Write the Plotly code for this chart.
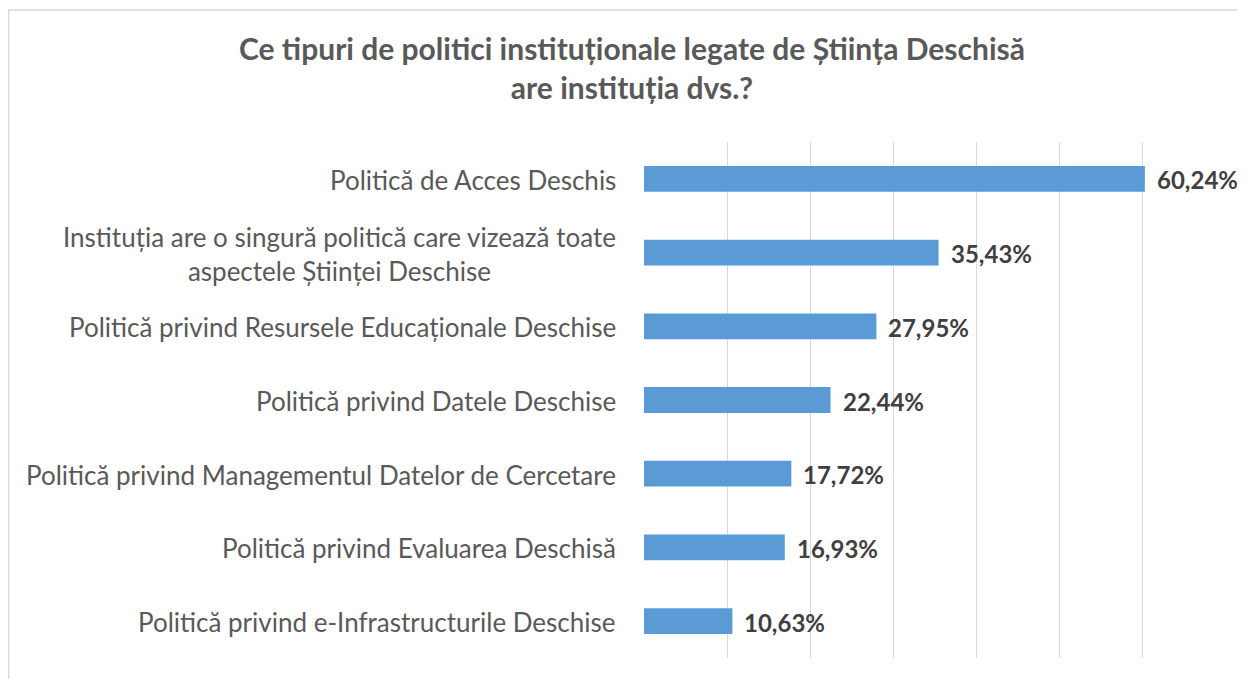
import plotly.graph_objects as go

categories = [
    "Politică de Acces Deschis",
    "Instituția are o singură politică care vizează toate<br>aspectele Științei Deschise",
    "Politică privind Resursele Educaționale Deschise",
    "Politică privind Datele Deschise",
    "Politică privind Managementul Datelor de Cercetare",
    "Politică privind Evaluarea Deschisă",
    "Politică privind e-Infrastructurile Deschise",
]
values = [60.24, 35.43, 27.95, 22.44, 17.72, 16.93, 10.63]
value_labels = ["60,24%", "35,43%", "27,95%", "22,44%", "17,72%", "16,93%", "10,63%"]
title_text = "Ce tipuri de politici instituționale legate de Știința Deschisă<br>are instituția dvs.?"

# page body has an 8px default margin, so the figure is 8px smaller
W, H = 1237, 671
L, R, T, B = 636, 19, 134, 21
FONT = "Lato"

fig = go.Figure()
fig.add_trace(go.Bar(
    x=values, y=categories, orientation="h",
    marker=dict(color="#5B9BD5", line=dict(width=0)),
    hoverinfo="skip",
))

annotations = []
for c, v, t in zip(categories, values, value_labels):
    annotations.append(dict(
        x=v, y=c, xref="x", yref="y", text=t, showarrow=False,
        xanchor="left", yanchor="middle", xshift=10, yshift=-1,
        font=dict(family=FONT, size=24, color="#404040", weight="bold"),
    ))
    annotations.append(dict(
        x=0, y=c, xref="paper", yref="y", text=c, showarrow=False,
        xanchor="right", yanchor="middle", xshift=-26, align="center", yshift=-1,
        font=dict(family=FONT, size=26, color="#595959"),
    ))

pw = W - L - R
ph = H - T - B
fig.update_layout(
    width=W, height=H,
    margin=dict(l=L, r=R, t=T, b=B),
    paper_bgcolor="white", plot_bgcolor="white",
    title=dict(text=title_text, x=624 / W, xref="container", xanchor="center",
               y=1 - 52 / H, yref="container", yanchor="middle",
               font=dict(family=FONT, size=30, color="#595959", weight="bold")),
    bargap=0.65,
    showlegend=False,
    xaxis=dict(range=[0, 70], dtick=10, showgrid=True, gridcolor="#D9D9D9", gridwidth=1.3,
               showticklabels=False, zeroline=False, showline=False, ticks="", fixedrange=True),
    yaxis=dict(autorange="reversed", showticklabels=False, showgrid=False, zeroline=False,
               showline=False, ticks="", fixedrange=True),
    annotations=annotations,
    shapes=[dict(type="rect", xref="paper", yref="paper",
                 x0=(0.7 - L) / pw, x1=(W + 10 - L) / pw,
                 y0=-(B + 10) / ph, y1=1 + (T - 2) / ph,
                 line=dict(color="#D9D9D9", width=1.3), fillcolor="rgba(0,0,0,0)", layer="below")],
)
fig.write_html("out.html")
